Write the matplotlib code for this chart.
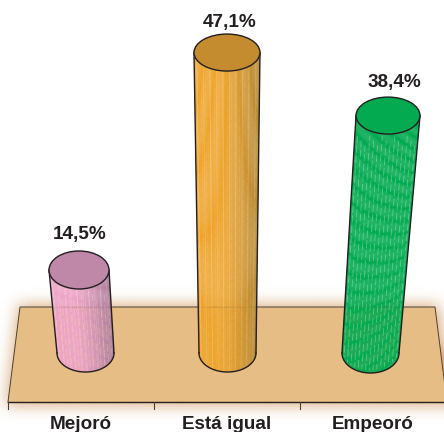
import numpy as np
import matplotlib
matplotlib.use("Agg")
import matplotlib.pyplot as plt
from matplotlib.collections import PolyCollection
from matplotlib.patches import Ellipse, Polygon
from matplotlib.colors import to_rgb

categories = ["Mejoró", "Está igual", "Empeoró"]
values = [14.5, 47.1, 38.4]
labels = ["14,5%", "47,1%", "38,4%"]

# style (pixel geometry of the drawing)
W, H = 444, 432
top_dx = [-2, 0, 15]; bot_dx = [4.5, 0.5, -2.5]
top_shift = [0, 0, 5]
top_w = [60, 66, 64]; bot_w = [57, 57, 57]
top_b = [19, 18.5, 18.5]; bot_b = [19, 19, 20]
label_dx = [-1, 3, 21]; label_y = [235, 22, 83]
body_l = ["#eea4c6", "#efa52c", "#00aa4f"]
body_r = ["#ab7d9a", "#b58732", "#00aa4f"]
cap = ["#bf88a8", "#c48b2f", "#04aa50"]
streak_a = [0.14, 0.16, 0.0]
dash_a = [0.22, 0.10, 0.30]
ink = "#231f20"

fig = plt.figure(figsize=(W/100, H/100), dpi=100)
ax = fig.add_axes([0, 0, 1, 1])
X = lambda p: (p - 81) / 146
Y = lambda p: (366.7 - p) / 6.67
PX = lambda v: 81 + 146 * v
PY = lambda v: 366.7 - 6.67 * v

# floor glow
floor = [(8, 402), (20, 307), (435, 307), (447, 402)]
yy, xx = np.mgrid[0:H, 0:W]
mask = ((yy >= 304) & (yy <= 405) & (xx >= 17 - (yy - 307) * 12 / 95) & (xx <= 438 + (yy - 307) * 12 / 95)).astype(float)
pad = 60
m = np.pad(mask, pad, mode="edge")
k = np.ones(13) / 13
for _ in range(4):
    m = np.apply_along_axis(lambda r: np.convolve(r, k, mode="same"), 0, m)
    m = np.apply_along_axis(lambda r: np.convolve(r, k, mode="same"), 1, m)
m = m[pad:-pad, pad:-pad]
img = np.zeros((H, W, 4))
img[..., :3] = to_rgb("#dcae80")
img[..., 3] = np.clip(m, 0, 1) ** 1.1
ax.imshow(img, extent=(X(0), X(W), Y(H), Y(0)), aspect="auto", zorder=0, interpolation="bilinear")

ax.add_patch(Polygon([(X(a), Y(b)) for a, b in floor], closed=True, fc="#e5bd85", ec="none", zorder=1))
ax.plot([X(8), X(20), X(435), X(447)], [Y(402), Y(307), Y(307), Y(402)], color="#4a4038", lw=0.7, zorder=1.5)
ax.plot([X(8), X(W)], [Y(402), Y(402)], color=ink, lw=1.0, zorder=2)
for tx in [8, 154, 300]:
    ax.plot([X(tx), X(tx)], [Y(402), Y(408.5)], color="#4a4038", lw=0.8, zorder=2)

# cylinders
for i, v in enumerate(values):
    c = PX(i)
    tx, bx = c + top_dx[i], c + bot_dx[i]
    ty, by = PY(v) + top_shift[i], 353
    tw, bw = top_w[i], bot_w[i]
    n = 60
    t = np.linspace(-1, 1, n + 1)
    cl, cr = np.array(to_rgb(body_l[i])), np.array(to_rgb(body_r[i]))
    polys, cols = [], []
    for j in range(n):
        a, b = t[j], t[j + 1]
        pa = (tx + a * tw / 2, ty); pb = (tx + b * tw / 2, ty)
        qa = (bx + a * bw / 2, by + bot_b[i] * np.sqrt(1 - a * a))
        qb = (bx + b * bw / 2, by + bot_b[i] * np.sqrt(1 - b * b))
        polys.append([(X(p), Y(q)) for p, q in (pa, pb, qb, qa)])
        u = (j + .5) / n
        f = np.clip((u - 0.4) / 0.6, 0, 1) ** 1.3
        col = cl * (1 - f) + cr * f
        if j % 6 == 2:
            col = col + (1 - col) * streak_a[i]
        cols.append(col)
    ax.add_collection(PolyCollection(polys, facecolors=cols, edgecolors=cols, linewidths=0.2, zorder=3))
    # dashed pale hatching on the body
    for q, a in enumerate(np.linspace(-0.92, 0.92, 15)):
        y0 = ty + 20 + (q % 3) * 5
        y1 = by + bot_b[i] * np.sqrt(1 - a * a) - 3
        x0 = tx + a * tw / 2 + (bx + a * bw / 2 - tx - a * tw / 2) * (y0 - ty) / (by - ty)
        x1 = tx + a * tw / 2 + (bx + a * bw / 2 - tx - a * tw / 2) * (y1 - ty) / (by - ty)
        ax.plot([X(x0), X(x1)], [Y(y0), Y(y1)], color="white", lw=0.6, alpha=dash_a[i],
                ls=(q % 4, (9, 3)), zorder=3.1)
    # faint floor line seen through the cylinder
    ax.plot([X(bx - bw / 2), X(bx + bw / 2)], [Y(307), Y(307)], color="#8a7a50", lw=0.5, ls=(0, (1, 2)), alpha=.6, zorder=3.2)
    # outline
    ax.plot([X(tx - tw / 2), X(bx - bw / 2)], [Y(ty), Y(by)], color=ink, lw=1.0, zorder=4)
    ax.plot([X(tx + tw / 2), X(bx + bw / 2)], [Y(ty), Y(by)], color=ink, lw=1.0, zorder=4)
    th = np.linspace(0, np.pi, 60)
    ax.plot(X(bx + bw / 2 * np.cos(th)), Y(by + bot_b[i] * np.sin(th)), color=ink, lw=1.0, zorder=4)
    ax.add_patch(Ellipse((X(tx), Y(ty)), tw / 146, 2 * top_b[i] / 6.67, fc=cap[i], ec=ink, lw=1.0, zorder=5))
    ax.text(X(c + label_dx[i]), Y(label_y[i]), labels[i], ha="center", va="center", fontsize=13.6,
            fontweight="bold", family="Liberation Sans", color=ink, zorder=6)
    ax.text(i, Y(424.5), categories[i], ha="center", va="center", fontsize=13.6,
            fontweight="bold", family="Liberation Sans", color=ink, zorder=6)

ax.set_xlim(X(0), X(W))
ax.set_ylim(Y(H), Y(0))
ax.axis("off")
fig.savefig("out.png", dpi=100, facecolor="white")
